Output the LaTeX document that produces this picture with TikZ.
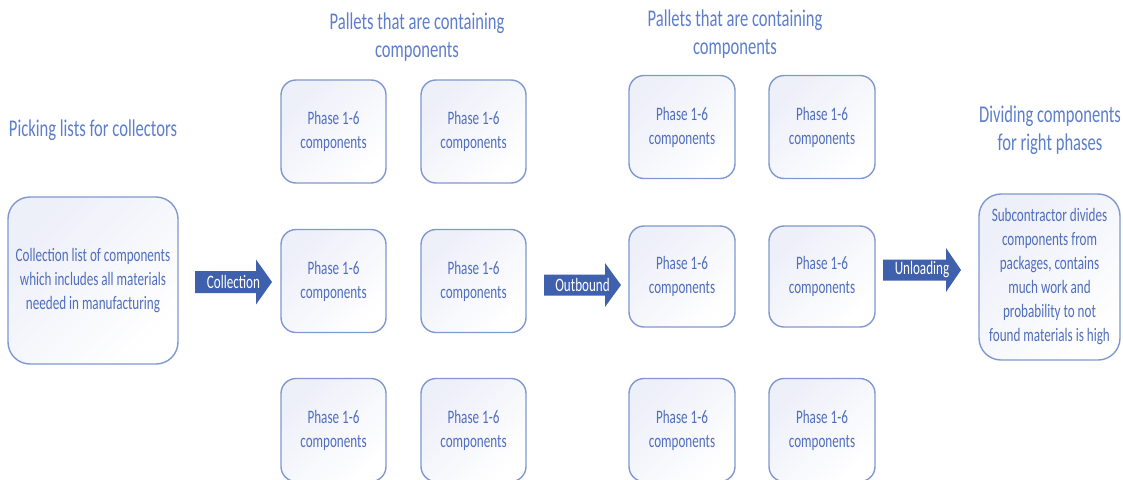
\documentclass[tikz,border=0pt]{standalone}
\usepackage{fontspec}
\setmainfont{Carlito}[FakeStretch=0.69]
\definecolor{txtblue}{RGB}{79,110,190}
\definecolor{ttlblue}{RGB}{92,126,205}
\definecolor{bordblue}{RGB}{128,152,208}
\definecolor{boxfill}{RGB}{237,239,249}
\definecolor{arwblue}{RGB}{63,96,172}
\tikzset{
  box/.style={draw=bordblue, line width=1.4pt, rounded corners=15pt,
    top color=boxfill, bottom color=white, shading angle=45,
    minimum width=105pt, minimum height=103pt, align=center,
    text=txtblue, font=\fontsize{19}{24}\selectfont, inner sep=0pt},
  bigbox/.style={box, rounded corners=22pt},
  ttl/.style={align=center, text=ttlblue, font=\fontsize{24}{28}\selectfont, inner sep=0pt},
  arwtext/.style={text=white, font=\fontsize{19}{24}\selectfont, inner sep=0pt},
  arwfill/.style={fill=arwblue}
}
\newcommand{\blockarw}[7]{% name, x0, xb, xt, yc, half body, half head
  \fill[arwfill] (#2,#5-#6) -- (#3,#5-#6) -- (#3,#5-#7) -- (#4,#5) -- (#3,#5+#7) -- (#3,#5+#6) -- (#2,#5+#6) -- cycle;
  \coordinate (#1) at (#2,#5);
}
\begin{document}
\begin{tikzpicture}[x=1pt,y=-1pt]
\useasboundingbox (0,0) rectangle (1123,479);
\clip (0,0) rectangle (1123,479);
% titles
\node[ttl] (t1) at (93,130) {Picking lists for collectors};
\node[ttl] (t2) at (417,37) {Pallets that are containing\\components};
\node[ttl] (t3) at (735,34) {Pallets that are containing\\components};
\node[ttl] (t4) at (1050,130) {Dividing components\\for right phases};
% left box
\node[bigbox, minimum width=170pt, minimum height=167pt] (list) at (93,280.5)
  {Collection list of components\\which includes all materials\\needed in manufacturing};
% pallets group 1
\node[box] (a1) at (333.5,131.5) {Phase 1-6\\components};
\node[box] (a2) at (473.5,131.5) {Phase 1-6\\components};
\node[box] (a3) at (333.5,281) {Phase 1-6\\components};
\node[box] (a4) at (473.5,281) {Phase 1-6\\components};
\node[box] (a5) at (333.5,430) {Phase 1-6\\components};
\node[box] (a6) at (473.5,430) {Phase 1-6\\components};
% pallets group 2
\node[box, minimum width=106pt] (b1) at (682,127) {Phase 1-6\\components};
\node[box, minimum width=106pt] (b2) at (822,127) {Phase 1-6\\components};
\node[box, minimum width=106pt, minimum height=101pt] (b3) at (682,276.5) {Phase 1-6\\components};
\node[box, minimum width=106pt, minimum height=101pt] (b4) at (822,276.5) {Phase 1-6\\components};
\node[box, minimum width=106pt] (b5) at (682,430) {Phase 1-6\\components};
\node[box, minimum width=106pt] (b6) at (822,430) {Phase 1-6\\components};
% right box
\node[bigbox, minimum width=141pt, minimum height=166pt] (sub) at (1049.5,277)
  {Subcontractor divides\\components from\\packages, contains\\much work and\\probability to not\\found materials is high};
% block arrows
\blockarw{c1}{195}{256}{272}{282}{11}{22.5}
\node[arwtext] (collection) at (233.5,282) {Collection};
\blockarw{c2}{544}{605}{621}{285}{10.5}{22}
\node[arwtext] (outbound) at (582.5,285) {Outbound};
\blockarw{c3}{883}{946}{961}{270}{10.5}{22}
\node[arwtext] (unloading) at (922,270) {Unloading};
\end{tikzpicture}
\end{document}
